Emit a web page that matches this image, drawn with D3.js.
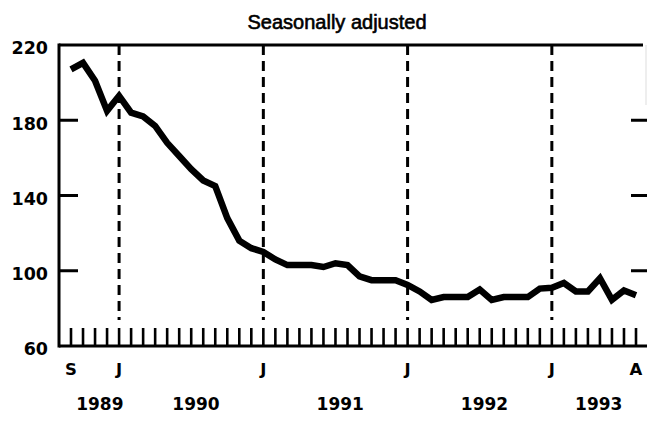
<!DOCTYPE html>
<html><head><meta charset="utf-8">
<script src="https://cdn.jsdelivr.net/npm/d3@7"></script>
<style>body{margin:0;background:#fff}svg{display:block}</style>
</head><body><svg id="c" width="647" height="422"></svg>
<script>
const title = "Seasonally adjusted";
const firstMonth = [1989, 9];   // Sep 1989
const lastMonth = [1993, 8];    // Aug 1993
const values = [
  207, 210.5, 201, 185,
  193, 184, 182, 177, 168, 161, 154, 148, 145, 128, 116, 112,
  110, 106, 103, 103, 103, 102, 104, 103, 97, 95, 95, 95,
  92.5, 89, 84.5, 86, 86, 86, 90, 84.5, 86, 86, 86, 90.5,
  91, 93.5, 89, 89, 96, 84.5, 89.5, 87
];
const yTicks = [60, 100, 140, 180, 220];
const yInnerTicks = [100, 140, 180];
const years = [1989, 1990, 1991, 1992, 1993];

const svg = d3.select("#c");
const months = d3.timeMonth.range(new Date(firstMonth[0], firstMonth[1]-1, 1), new Date(lastMonth[0], lastMonth[1], 1));
const x = d3.scaleLinear().domain([0, months.length - 1]).range([71, 636]);
const y = d3.scaleLinear().domain([60, 220]).range([346, 45]);
const L = 59, R = 646, T = y(220), B = y(60);
const numFont = "'DejaVu Sans', sans-serif";

// title
svg.append("text").attr("x", 337).attr("y", 29).attr("text-anchor", "middle")
  .attr("font-family", "'Liberation Sans', Arial, sans-serif").attr("font-size", 20)
  .attr("stroke", "#000").attr("stroke-width", 0.6).attr("fill", "#000").text(title);

// dashed January lines
const janIdx = months.map((d, i) => d.getMonth() === 0 ? i : -1).filter(i => i >= 0);
svg.append("g").selectAll("line").data(janIdx).join("line")
  .attr("x1", d => x(d)).attr("x2", d => x(d)).attr("y1", T).attr("y2", 320)
  .attr("stroke", "#000").attr("stroke-width", 3).attr("stroke-dasharray", "10,6");

// month ticks
svg.append("g").selectAll("line").data(months.map((d, i) => i)).join("line")
  .attr("x1", d => x(d)).attr("x2", d => x(d)).attr("y1", 328).attr("y2", B)
  .attr("stroke", "#000").attr("stroke-width", 2.6);

// frame
const frame = svg.append("g").attr("stroke", "#000").attr("stroke-width", 3);
frame.append("line").attr("x1", L).attr("x2", L).attr("y1", T - 1.5).attr("y2", B + 1.5);
frame.append("line").attr("x1", L).attr("x2", 643).attr("y1", T).attr("y2", T);
frame.append("line").attr("x1", L).attr("x2", 647).attr("y1", B).attr("y2", B);
svg.append("line").attr("x1", R).attr("x2", R).attr("y1", T).attr("y2", 105)
  .attr("stroke", "#ddd").attr("stroke-width", 1);

// inner y ticks (left and right)
const ticks = svg.append("g").attr("stroke", "#000").attr("stroke-width", 3);
ticks.selectAll(".l").data(yInnerTicks).join("line").attr("class", "l")
  .attr("x1", L).attr("x2", 78).attr("y1", d => y(d)).attr("y2", d => y(d));
ticks.selectAll(".r").data(yInnerTicks).join("line").attr("class", "r")
  .attr("x1", 631).attr("x2", 647).attr("y1", d => y(d)).attr("y2", d => y(d));

// y labels via axis
const yAxis = svg.append("g").attr("transform", `translate(${L},0)`)
  .call(d3.axisLeft(y).tickValues(yTicks).tickSize(0).tickPadding(11));
yAxis.select(".domain").remove();
yAxis.selectAll("text").attr("font-family", numFont).attr("font-weight", "bold")
  .attr("font-size", 17.5).attr("fill", "#000").attr("dy", "0.5em");

// month letter labels
const labIdx = months.map((d, i) => (i === 0 || i === months.length - 1 || d.getMonth() === 0) ? i : -1).filter(i => i >= 0);
svg.append("g").selectAll("text").data(labIdx).join("text")
  .attr("x", d => x(d)).attr("y", 375).attr("text-anchor", "middle")
  .attr("font-family", numFont).attr("font-weight", "bold").attr("font-size", 16.5)
  .text(d => d3.timeFormat("%b")(months[d]).charAt(0));

// year labels centered on each year's span
svg.append("g").selectAll("text").data(years).join("text")
  .attr("x", yr => {
    const idx = months.map((d, i) => d.getFullYear() === yr ? i : -1).filter(i => i >= 0);
    const a = idx[0];
    const b = idx[idx.length - 1] === months.length - 1 ? idx[idx.length - 1] : idx[idx.length - 1] + 1;
    return x((a + b) / 2 + 0.4);
  })
  .attr("y", 410).attr("text-anchor", "middle")
  .attr("font-family", numFont).attr("font-weight", "bold").attr("font-size", 17)
  .text(d => d);

// data line
const line = d3.line().x((d, i) => x(i)).y(d => y(d));
svg.append("path").datum(values).attr("d", line)
  .attr("fill", "none").attr("stroke", "#000").attr("stroke-width", 6.5)
  .attr("stroke-linejoin", "miter").attr("stroke-linecap", "butt");
</script></body></html>
